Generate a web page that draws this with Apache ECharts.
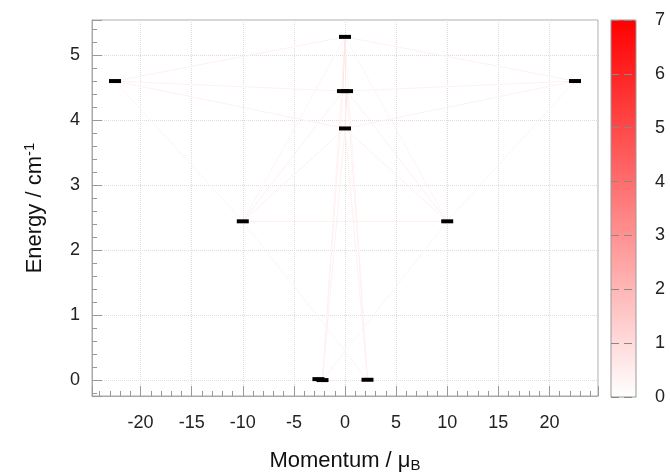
<!DOCTYPE html>
<html>
<head>
<meta charset="utf-8">
<script src="https://cdn.jsdelivr.net/npm/echarts@6/dist/echarts.min.js"></script>
<style>
  html, body { margin: 0; padding: 0; background: #fff; }
  #chart { width: 670px; height: 474px; }
</style>
</head>
<body>
<div id="chart"></div>
<script>
// energy levels (momentum / energy)
var levelMomentum = [-22.5, -10, -2.6, -2.2, 2.2, 0, -0.2, 0.2, 0, 10, 22.5];
var levelEnergy   = [4.6, 2.44, 0.01, -0.005, 0, 5.28, 4.445, 4.445, 3.87, 2.44, 4.6];

// transitions between levels (index pairs) and their strength
var transFrom     = [0, 0, 0, 0, 10, 10, 10, 10, 1, 1, 1, 1, 1, 9, 9, 9, 9, 3, 3, 3, 4, 4, 4, 5, 7, 5];
var transTo       = [5, 6, 8, 1, 5, 7, 8, 9, 5, 6, 8, 9, 4, 5, 7, 8, 3, 5, 6, 8, 5, 7, 8, 6, 8, 8];
var transStrength = [0.4, 0.4, 0.4, 0.3, 0.4, 0.4, 0.4, 0.3, 0.3, 0.4, 0.4, 0.4, 0.3, 0.3, 0.4, 0.4, 0.3,
                     0.3, 0.4, 0.4, 0.3, 0.4, 0.4, 0.8, 0.8, 0.6];

var colorbarMin = 0;
var colorbarMax = 7;

var levels = [];
for (var i = 0; i < levelMomentum.length; i++) {
    levels.push([levelMomentum[i], levelEnergy[i]]);
}
var transitions = [];
for (var j = 0; j < transFrom.length; j++) {
    transitions.push({
        coords: [levels[transFrom[j]], levels[transTo[j]]],
        value: transStrength[j]
    });
}

var font = 'Liberation Sans';
var chart = echarts.init(document.getElementById('chart'));
chart.setOption({
    animation: false,
    textStyle: { fontFamily: font },
    grid: [
        { left: 92, right: 72, top: 20, bottom: 78, outerBoundsMode: 'none', containLabel: false,
          show: true, borderColor: '#aaa', borderWidth: 1 },
        { left: 611, width: 25, top: 20, height: 377, outerBoundsMode: 'none', containLabel: false,
          show: true, borderColor: '#999', borderWidth: 1, z: 10 }
    ],
    visualMap: {
        type: 'continuous',
        min: colorbarMin,
        max: colorbarMax,
        seriesIndex: 0,
        calculable: false,
        left: 611,
        top: 20,
        padding: 0,
        itemWidth: 25,
        itemHeight: 377,
        text: null,
        inRange: { color: ['#ffffff', '#ff0000'] }
    },
    xAxis: [{
        gridIndex: 0,
        type: 'value',
        min: -24.75,
        max: 24.75,
        splitNumber: 10,
        name: 'Momentum / μ{sub|B}',
        nameLocation: 'middle',
        nameGap: 52,
        nameTextStyle: {
            fontSize: 22, color: '#111', fontFamily: font,
            rich: { sub: { fontSize: 15, verticalAlign: 'bottom', padding: [10, 0, 0, 0] } }
        },
        axisLine: { onZero: false, lineStyle: { color: '#aaa' } },
        axisTick: { inside: true, length: 10, lineStyle: { color: '#999' } },
        minorTick: { show: true, splitNumber: 5, length: 5, lineStyle: { color: '#999' } },
        axisLabel: { fontSize: 18, color: '#222', margin: 18, showMinLabel: false, showMaxLabel: false },
        splitLine: { show: true, lineStyle: { type: 'dotted', color: '#ddd' } }
    }, {
        gridIndex: 1,
        type: 'value',
        show: false,
        min: 0,
        max: 1
    }],
    yAxis: [{
        gridIndex: 0,
        type: 'value',
        min: -0.25,
        max: 5.54,
        splitNumber: 6,
        name: 'Energy / cm{sup|-1}',
        nameLocation: 'middle',
        nameGap: 45,
        nameTextStyle: {
            fontSize: 22, color: '#111', fontFamily: font,
            rich: { sup: { fontSize: 15, verticalAlign: 'top', padding: [0, 0, 10, 0] } }
        },
        axisLine: { show: true, onZero: false, lineStyle: { color: '#aaa' } },
        axisTick: { inside: true, length: 10, lineStyle: { color: '#999' } },
        minorTick: { show: true, splitNumber: 5, length: 5, lineStyle: { color: '#999' } },
        axisLabel: { fontSize: 18, color: '#222', margin: 12, showMinLabel: false, showMaxLabel: false },
        splitLine: { show: true, lineStyle: { type: 'dotted', color: '#ddd' } }
    }, {
        gridIndex: 1,
        type: 'value',
        position: 'right',
        min: colorbarMin,
        max: colorbarMax,
        interval: 1,
        z: 10,
        axisLine: { show: false },
        axisTick: { show: false },
        axisLabel: { fontSize: 18, color: '#222', margin: 19 },
        splitLine: { show: true, lineStyle: { type: [8, 5], color: '#888' } }
    }],
    series: [{
        type: 'lines',
        coordinateSystem: 'cartesian2d',
        xAxisIndex: 0,
        yAxisIndex: 0,
        z: 2,
        lineStyle: { width: 1, opacity: 1 },
        data: transitions
    }, {
        type: 'scatter',
        xAxisIndex: 0,
        yAxisIndex: 0,
        z: 5,
        symbol: 'rect',
        symbolSize: [12, 4],
        itemStyle: { color: '#000', opacity: 1 },
        data: levels
    }]
});
</script>
</body>
</html>
